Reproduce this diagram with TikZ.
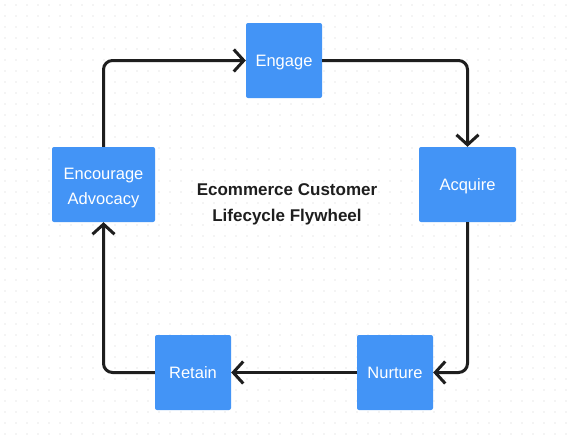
\documentclass[tikz,border=0pt]{standalone}
\usepackage{fontspec}
\setmainfont{Liberation Sans}
\usetikzlibrary{arrows.meta}
\definecolor{boxblue}{HTML}{4394F6}
\definecolor{linek}{HTML}{1E1E1E}
\definecolor{dotc}{HTML}{D2D2D2}
\newcommand{\onetxt}[1]{\raisebox{-6pt}[0pt][0pt]{#1}}
\newcommand{\twotxt}[1]{\raisebox{-7pt}[0pt][0pt]{#1}}
\tikzset{
  stepbox/.style={draw=none, fill=boxblue, rounded corners=2pt, text=white, font=\fontsize{16.5}{25}\selectfont, align=center, inner sep=0pt},
  flow/.style={draw=linek, line width=3pt, rounded corners=9pt, -{Straight Barb[length=10pt,width=22pt,line width=3pt]}},
}
\begin{document}
\begin{tikzpicture}[x=1pt,y=-1pt]
\useasboundingbox (0,0) rectangle (570,442);
\fill[white] (0,0) rectangle (570,442);
\foreach \i in {0,...,51}{\foreach \j in {0,...,40}{\fill[dotc] (5+\i*11,5+\j*11) circle (0.6);}}
\node[stepbox, minimum width=76pt, minimum height=75pt] (engage) at (284,60.5) {\onetxt{Engage}};
\node[stepbox, minimum width=97pt, minimum height=75pt] (acquire) at (467.5,184.5) {\onetxt{Acquire}};
\node[stepbox, minimum width=76pt, minimum height=75pt] (nurture) at (395,372.5) {\onetxt{Nurture}};
\node[stepbox, minimum width=76pt, minimum height=75pt] (retain) at (193,372.5) {\onetxt{Retain}};
\node[stepbox, minimum width=103pt, minimum height=75pt] (advocacy) at (103.5,184.5) {\twotxt{Encourage}\\\twotxt{Advocacy}};
\node[font=\bfseries\fontsize{17}{26}\selectfont, text=linek, align=center] (title) at (287,204) {Ecommerce Customer\\Lifecycle Flywheel};
\draw[flow] (engage.east) -| (acquire.north);
\draw[flow] (acquire.south) |- (nurture.east);
\draw[flow] (nurture.west) -- (retain.east);
\draw[flow] (retain.west) -| (advocacy.south);
\draw[flow] (advocacy.north) |- (engage.west);
\end{tikzpicture}
\end{document}
